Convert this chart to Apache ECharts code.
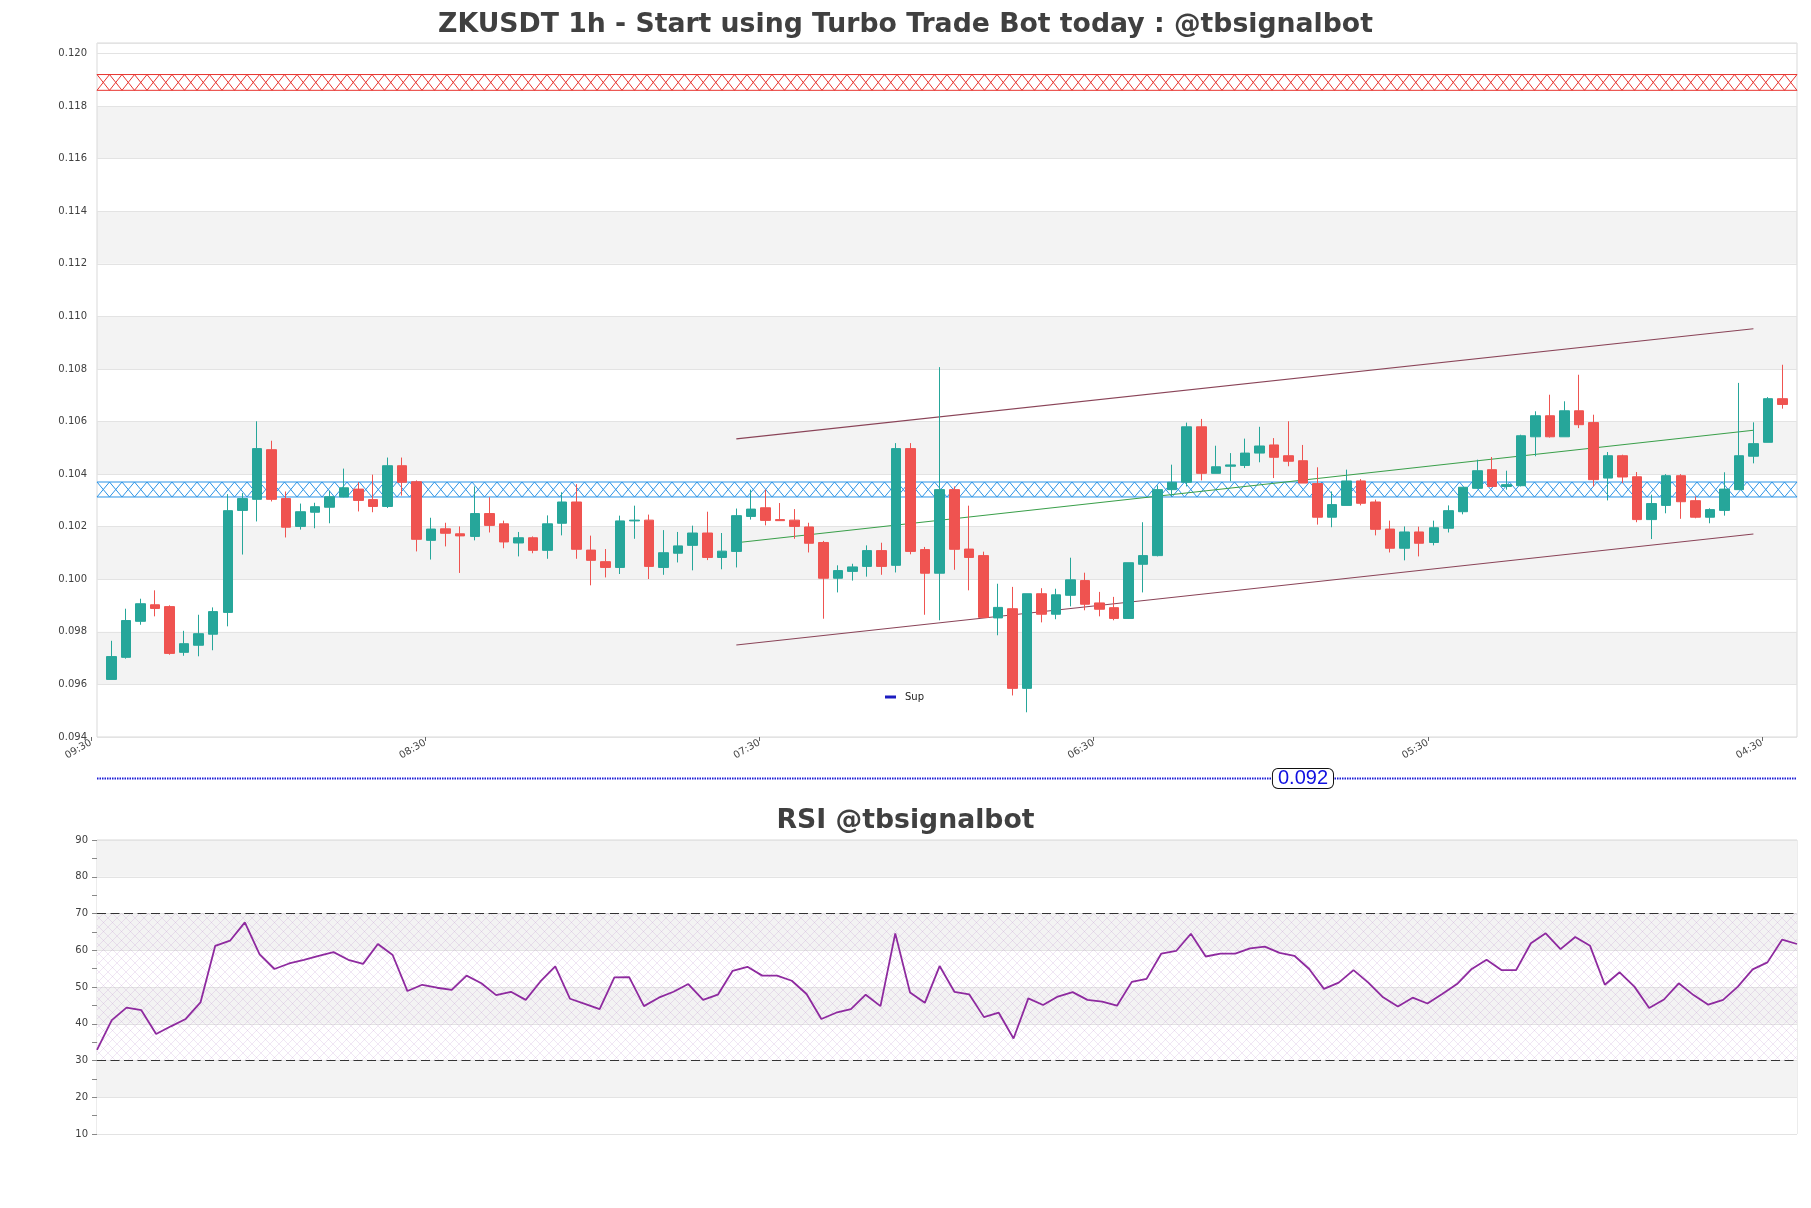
<!DOCTYPE html>
<html><head><meta charset="utf-8">
<script src="https://cdn.jsdelivr.net/npm/echarts@6/dist/echarts.min.js"></script>
<style>html,body{margin:0;padding:0;background:#fff}#c{width:1811px;height:1208px}</style>
</head><body><div id="c"></div>
<script>
// ---------------- data ----------------
const timeLabels = ['09:30', '08:30', '07:30', '06:30', '05:30', '04:30'];
const opens = [
 .09619,.09703,.09840,.09903,.09896,.09722,.09749,.09791,.09874,.10262,
 .10304,.10493,.10307,.10201,.10255,.10274,.10313,.10343,.10303,.10277,
 .10432,.10371,.10148,.10192,.10173,.10163,.10250,.10211,.10138,.10158,
 .10110,.10213,.10294,.10111,.10067,.10045,.10222,.10225,.10045,.10099,
 .10129,.10176,.10083,.10106,.10239,.10272,.10227,.10225,.10199,.10140,
 .10004,.10030,.10049,.10109,.10053,.10497,.10113,.10023,.10341,.10115,
 .10090,.09853,.09888,.09585,.09945,.09867,.09939,.09995,.09910,.09892,
 .09851,.10057,.10090,.10341,.10369,.10580,.10403,.10430,.10433,.10480,
 .10511,.10470,.10451,.10364,.10236,.10281,.10374,.10294,.10191,.10118,
 .10180,.10140,.10194,.10257,.10346,.10417,.10353,.10356,.10542,.10622,
 .10542,.10641,.10596,.10385,.10470,.10390,.10227,.10281,.10394,.10299,
 .10236,.10262,.10341,.10468,.10521,.10687];
const closes = [
 .09706,.09843,.09907,.09889,.09718,.09755,.09793,.09877,.10261,.10307,
 .10497,.10304,.10198,.10257,.10276,.10314,.10348,.10300,.10277,.10432,
 .10369,.10152,.10191,.10175,.10165,.10250,.10205,.10142,.10158,.10110,
 .10211,.10294,.10114,.10072,.10045,.10222,.10225,.10049,.10101,.10127,
 .10176,.10083,.10107,.10242,.10267,.10224,.10223,.10201,.10137,.10004,
 .10033,.10047,.10109,.10049,.10497,.10106,.10023,.10341,.10114,.10083,
 .09855,.09893,.09585,.09945,.09867,.09941,.09998,.09905,.09886,.09851,
 .10063,.10090,.10341,.10369,.10580,.10403,.10428,.10435,.10480,.10507,
 .10464,.10449,.10366,.10236,.10284,.10374,.10289,.10190,.10118,.10180,
 .10137,.10196,.10261,.10350,.10413,.10353,.10360,.10546,.10622,.10542,
 .10641,.10588,.10379,.10470,.10389,.10227,.10288,.10394,.10295,.10236,
 .10265,.10343,.10470,.10516,.10687,.10665];
const lows = [
 .09619,.09698,.09827,.09859,.09713,.09709,.09707,.09730,.09821,.10094,
 .10220,.10296,.10159,.10189,.10194,.10213,.10312,.10258,.10255,.10271,
 .10318,.10106,.10075,.10125,.10024,.10148,.10178,.10118,.10087,.10099,
 .10078,.10167,.10078,.09977,.10007,.10020,.10154,.10001,.10017,.10064,
 .10034,.10073,.10038,.10045,.10227,.10205,.10222,.10154,.10102,.09850,
 .09950,.09995,.10010,.10017,.10026,.10095,.09865,.09844,.10036,.09958,
 .09855,.09787,.09558,.09494,.09836,.09848,.09897,.09882,.09859,.09844,
 .09849,.09950,.10087,.10315,.10353,.10376,.10403,.10373,.10423,.10445,
 .10385,.10430,.10366,.10208,.10198,.10281,.10281,.10167,.10102,.10072,
 .10087,.10129,.10178,.10247,.10346,.10350,.10341,.10353,.10468,.10539,
 .10542,.10575,.10353,.10300,.10366,.10217,.10153,.10251,.10230,.10232,
 .10213,.10242,.10341,.10441,.10521,.10649];
const highs = [
 .09766,.09888,.09926,.09958,.09901,.09804,.09865,.09893,.10324,.10328,
 .10601,.10527,.10334,.10288,.10291,.10337,.10421,.10369,.10398,.10463,
 .10463,.10376,.10234,.10215,.10201,.10353,.10312,.10223,.10180,.10163,
 .10243,.10331,.10362,.10166,.10115,.10242,.10280,.10246,.10187,.10180,
 .10204,.10257,.10176,.10269,.10341,.10341,.10290,.10267,.10215,.10146,
 .10053,.10059,.10129,.10139,.10518,.10518,.10123,.10807,.10353,.10280,
 .10105,.09983,.09971,.09945,.09966,.09964,.10082,.10025,.09952,.09933,
 .10063,.10217,.10357,.10436,.10596,.10610,.10508,.10480,.10535,.10580,
 .10537,.10601,.10511,.10426,.10334,.10417,.10381,.10303,.10223,.10201,
 .10200,.10223,.10281,.10350,.10455,.10465,.10413,.10550,.10639,.10702,
 .10677,.10778,.10626,.10484,.10474,.10408,.10322,.10400,.10400,.10315,
 .10270,.10407,.10747,.10597,.10693,.10816];
const rsiValues = [
 32.9,41.0,44.4,43.7,37.2,39.3,41.3,45.8,61.2,62.6,
 67.6,58.9,54.9,56.4,57.4,58.5,59.5,57.4,56.3,61.7,
 58.7,48.9,50.6,49.8,49.2,53.1,51.0,47.8,48.7,46.5,
 51.5,55.6,46.8,45.4,44.0,52.6,52.7,44.8,47.1,48.7,
 50.8,46.5,47.9,54.4,55.5,53.1,53.1,51.7,48.1,41.3,
 43.0,44.0,47.9,44.8,64.6,48.5,45.7,55.7,48.7,48.0,
 41.8,43.0,36.0,46.9,45.1,47.4,48.6,46.5,46.0,44.9,
 51.4,52.2,59.1,59.8,64.5,58.3,59.1,59.1,60.5,61.0,
 59.3,58.5,54.9,49.5,51.2,54.6,51.2,47.2,44.7,47.1,
 45.5,48.1,50.8,54.9,57.4,54.6,54.6,61.9,64.6,60.3,
 63.6,61.2,50.6,54.0,50.1,44.3,46.6,51.0,47.8,45.2,
 46.5,50.1,54.8,56.7,62.9,61.7];
const resistanceZone = [0.1186, 0.1192];
const supportZone = [0.10313, 0.1037];
const channelUpper = [[43, 0.10534], [113, 0.10953]];
const channelLower = [[43, 0.09750], [113, 0.10172]];
const trendLine = [[43, 0.10139], [113, 0.10567]];
const supLevel = 0.092;
const rsiUpper = 70, rsiLower = 30;

// ---------------- layout / style constants ----------------
const FONT = 'DejaVu Sans';
const Y_MIN = 0.094, Y_MAX = 0.1204, Y_TOP_TICK = 0.120, Y_STEP = 0.002;
const TICK_STEP = 23;          // candles between time labels
const LABEL_AXIS_MAX = 117.41;
const SUP_LABEL_X = 82;        // label placement along the Sup line
const HATCH_CELL = 12.5;
const UP = '#26a69a', DOWN = '#ef5350';

const candleData = opens.map((o, i) => [i, o, closes[i], lows[i], highs[i]]);
const rsiData = rsiValues.map((v, i) => [i, v]);
const grayBands = [];
for (let v = Y_MIN + Y_STEP; v + Y_STEP < Y_TOP_TICK - 1e-9; v += 2 * Y_STEP) grayBands.push([v, v + Y_STEP]);
const timeTickValues = timeLabels.map((_, i) => i * TICK_STEP);

function bandRender(params, api) {
  const cs = params.coordSys;
  const yA = api.coord([0, api.value(1)])[1];
  const yB = api.coord([0, api.value(0)])[1];
  return { type: 'rect', shape: { x: cs.x, y: yA, width: cs.width, height: yB - yA },
           style: { fill: '#f3f3f3' } };
}
function zoneRender(color) {
  return function (params, api) {
    const cs = params.coordSys;
    const yT = api.coord([0, api.value(1)])[1];
    const yB = api.coord([0, api.value(0)])[1];
    const x0 = cs.x, x1 = cs.x + cs.width;
    const z1 = [], z2 = [];
    let k = 0, x = x0;
    while (x < x1) {
      z1.push([x, k % 2 ? yB : yT]);
      z2.push([x, k % 2 ? yT : yB]);
      x += HATCH_CELL; k++;
    }
    const f = 1 - (x - x1) / HATCH_CELL;
    const a1 = k % 2 ? yB : yT, p1 = (k - 1) % 2 ? yB : yT;
    z1.push([x1, p1 + (a1 - p1) * f]);
    z2.push([x1, (yT + yB) - (p1 + (a1 - p1) * f)]);
    const st = { stroke: color, lineWidth: 1, fill: 'none' };
    return { type: 'group', children: [
      { type: 'polyline', shape: { points: z1 }, style: st },
      { type: 'polyline', shape: { points: z2 }, style: st },
      { type: 'line', shape: { x1: x0, y1: yT, x2: x1, y2: yT }, style: st },
      { type: 'line', shape: { x1: x0, y1: yB, x2: x1, y2: yB }, style: st }
    ] };
  };
}
function makeHatch() {
  const c = document.createElement('canvas');
  c.width = 9; c.height = 9;
  const g = c.getContext('2d');
  g.strokeStyle = 'rgba(180,130,200,0.26)';
  g.lineWidth = 0.8;
  g.beginPath();
  g.moveTo(0, 0); g.lineTo(9, 9);
  g.moveTo(9, 0); g.lineTo(0, 9);
  g.stroke();
  return c;
}

const chart = echarts.init(document.getElementById('c'), null, { renderer: 'canvas' });
const gridBorder = '#d9d9d9';
chart.setOption({
  animation: false,
  backgroundColor: '#ffffff',
  title: [
    { text: 'ZKUSDT 1h - Start using Turbo Trade Bot today : @tbsignalbot', left: 'center', top: 12, padding: 0,
      textStyle: { fontFamily: FONT, fontWeight: 'bold', fontSize: 26.7, color: '#404040' } },
    { text: 'RSI @tbsignalbot', left: 'center', top: 808, padding: 0,
      textStyle: { fontFamily: FONT, fontWeight: 'bold', fontSize: 26.7, color: '#404040' } }
  ],
  legend: {
    data: ['Sup'], left: 885, top: 692, padding: 0, icon: 'rect', itemWidth: 11, itemHeight: 3,
    textStyle: { fontFamily: FONT, fontSize: 10, color: '#222', padding: [0, 0, 0, 4] }
  },
  grid: [
    { left: 97, top: 43, width: 1700, height: 694, show: true, borderColor: gridBorder, borderWidth: 1, backgroundColor: 'transparent' },
    { left: 97, top: 840, width: 1700, height: 294, show: true, borderColor: gridBorder, borderWidth: 1, backgroundColor: 'transparent' },
    { left: 97, top: 770, width: 1700, height: 17, show: false },
    { left: 91, top: 43, width: 1706, height: 694, show: false }
  ],
  xAxis: [
    { gridIndex: 0, type: 'value', min: -1, max: 116, show: false },
    { gridIndex: 1, type: 'value', min: 0, max: 115, show: false },
    { gridIndex: 2, type: 'value', min: -1, max: 116, show: false },
    { gridIndex: 3, type: 'value', min: 0, max: LABEL_AXIS_MAX, interval: TICK_STEP,
      axisLine: { show: false }, splitLine: { show: false },
      axisTick: { show: true, length: 4, lineStyle: { color: '#666' }, customValues: timeTickValues },
      axisLabel: { rotate: 30, margin: 5, fontFamily: FONT, fontSize: 10, color: '#444',
        customValues: timeTickValues, showMinLabel: true, showMaxLabel: true,
        formatter: v => { const k = v / TICK_STEP; const r = Math.round(k);
          return Math.abs(k - r) < 1e-6 && timeLabels[r] ? timeLabels[r] : ''; } } }
  ],
  yAxis: [
    { gridIndex: 0, type: 'value', min: Y_MIN, max: Y_MAX, interval: Y_STEP,
      axisLine: { show: false }, axisTick: { show: false },
      splitLine: { show: true, lineStyle: { color: '#e3e3e3', width: 1 } },
      axisLabel: { margin: 10, fontFamily: FONT, fontSize: 10, color: '#404040', showMaxLabel: false,
        formatter: v => { const k = (v - Y_MIN) / Y_STEP; return Math.abs(k - Math.round(k)) < 1e-6 ? v.toFixed(3) : ''; } } },
    { gridIndex: 1, type: 'value', min: 10, max: 90, interval: 10,
      axisLine: { show: false },
      axisTick: { show: true, length: 5, lineStyle: { color: '#888' } },
      minorTick: { show: true, splitNumber: 2, length: 5, lineStyle: { color: '#888' } },
      splitLine: { show: true, lineStyle: { color: '#e3e3e3' } },
      splitArea: { show: true, areaStyle: { color: ['#ffffff', '#f3f3f3'] } },
      axisLabel: { margin: 9, fontFamily: FONT, fontSize: 10, color: '#404040' } },
    { gridIndex: 2, type: 'value', min: 0.0915, max: 0.0925, show: false },
    { gridIndex: 3, type: 'value', min: 0, max: 1, show: false }
  ],
  series: [
    { type: 'custom', name: 'bands', xAxisIndex: 0, yAxisIndex: 0, z: -1, silent: true,
      renderItem: bandRender, data: grayBands },
    { type: 'custom', name: 'Res', xAxisIndex: 0, yAxisIndex: 0, z: 1, silent: true,
      renderItem: zoneRender('#e8342f'), data: [resistanceZone] },
    { type: 'custom', name: 'SupZone', xAxisIndex: 0, yAxisIndex: 0, z: 1, silent: true,
      renderItem: zoneRender('#2a93e6'), data: [supportZone] },
    { type: 'line', name: 'chUp', xAxisIndex: 0, yAxisIndex: 0, z: 1.5, symbol: 'none', silent: true,
      lineStyle: { color: '#8a4458', width: 1.1 }, data: channelUpper },
    { type: 'line', name: 'chLow', xAxisIndex: 0, yAxisIndex: 0, z: 1.5, symbol: 'none', silent: true,
      lineStyle: { color: '#8a4458', width: 1.1 }, data: channelLower },
    { type: 'line', name: 'trend', xAxisIndex: 0, yAxisIndex: 0, z: 1.5, symbol: 'none', silent: true,
      lineStyle: { color: '#3a9f4a', width: 1.1 }, data: trendLine },
    { type: 'candlestick', name: 'price', xAxisIndex: 0, yAxisIndex: 0, z: 2,
      barWidth: 10, encode: { x: 0, y: [1, 2, 3, 4] },
      itemStyle: { color: UP, color0: DOWN, borderColor: UP, borderColor0: DOWN, borderWidth: 1 },
      data: candleData },
    { type: 'line', name: 'RSI', xAxisIndex: 1, yAxisIndex: 1, symbol: 'none', silent: true,
      lineStyle: { color: '#8e2a9f', width: 1.8 }, data: rsiData,
      markArea: { silent: true, itemStyle: { color: { image: makeHatch(), repeat: 'repeat' } },
        data: [[{ yAxis: rsiLower }, { yAxis: rsiUpper }]] },
      markLine: { silent: true, symbol: ['none', 'none'], label: { show: false },
        lineStyle: { color: '#333', type: [9, 4.5], width: 1.2 },
        data: [{ yAxis: rsiUpper }, { yAxis: rsiLower }] } },
    { type: 'line', name: 'Sup', xAxisIndex: 2, yAxisIndex: 2, symbol: 'none', silent: true,
      itemStyle: { color: '#1c1cc0' },
      lineStyle: { color: '#1a1ad6', width: 2, type: [1.5, 1] },
      data: [[-1, supLevel], [116, supLevel]],
      markPoint: { silent: true, symbol: 'circle', symbolSize: 1, itemStyle: { color: 'rgba(0,0,0,0)' },
        label: { show: true, position: 'inside', formatter: p => p.value.toFixed(3),
          fontFamily: 'Liberation Sans', fontSize: 20, color: '#1010e0', backgroundColor: '#ffffff',
          borderColor: '#111', borderWidth: 1, borderRadius: 5, padding: [1, 5], lineHeight: 17 },
        data: [{ coord: [SUP_LABEL_X, supLevel], value: supLevel }] } }
  ]
});
</script></body></html>
